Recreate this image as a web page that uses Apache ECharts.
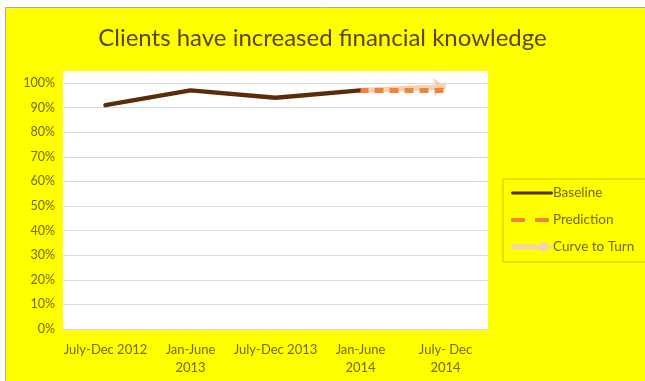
<!DOCTYPE html>
<html>
<head>
<meta charset="utf-8">
<script src="https://cdn.jsdelivr.net/npm/echarts@6/dist/echarts.min.js"></script>
<style>
  html, body { margin: 0; padding: 0; background: #ffffff; }
  #chart { width: 645px; height: 381px; }
</style>
</head>
<body>
<div id="chart"></div>
<script>
// Half-year periods on the x axis
const periods = ['July-Dec 2012', 'Jan-June\n2013', 'July-Dec 2013', 'Jan-June\n2014', 'July- Dec\n2014'];
// Share of clients reporting increased financial knowledge
const baseline   = [0.91, 0.97, 0.94, 0.97, null];
const prediction = [null, null, null, 0.97, 0.97];
const curveToTurn = [null, null, null, 0.97, 0.985];
// Value axis ticks
const yTicks = [0, 0.1, 0.2, 0.3, 0.4, 0.5, 0.6, 0.7, 0.8, 0.9, 1.0];

const FONT = 'Lato, "Open Sans", sans-serif';
const LABEL = '#7a6400';

const chart = echarts.init(document.getElementById('chart'), null, { renderer: 'canvas' });

chart.setOption({
  backgroundColor: '#ffffff',
  animation: false,
  graphic: [
    {
      type: 'rect', z: -10, silent: true,
      shape: { x: 5.5, y: 7.5, width: 660, height: 400 },
      style: { fill: '#ffff00', stroke: '#a8a8a8', lineWidth: 1 }
    },
    {
      type: 'rect', z: -9, silent: true,
      shape: { x: 63, y: 71, width: 425, height: 259 },
      style: { fill: '#ffffff' }
    }
  ],
  title: {
    text: 'Clients have increased financial knowledge',
    left: 'center',
    top: 21,
    textStyle: { fontFamily: FONT, fontSize: 24, fontWeight: 'normal', color: '#5a4600' }
  },
  legend: {
    orient: 'vertical',
    left: 503,
    top: 179,
    padding: [7, 12, 8, 8],
    itemGap: 13,
    itemWidth: 42,
    itemHeight: 13,
    borderColor: '#d2bd00',
    borderWidth: 1,
    textStyle: { fontFamily: FONT, fontSize: 13.5, color: LABEL, padding: [0, 0, 0, -5] },
    data: [
      { name: 'Baseline', icon: 'path://M1,4.5 L41,4.5 A1.5,1.5 0 0 1 41,7.5 L1,7.5 A1.5,1.5 0 0 1 1,4.5 Z', itemStyle: { color: '#5b2c0a' } },
      { name: 'Prediction', icon: 'path://M0,4 L14,4 L14,8 L0,8 Z M24,4 L38,4 L38,8 L24,8 Z M0,0 L0,0.01 L42,0.01 L42,0 Z M0,12 L0,11.99 L42,11.99 L42,12 Z', itemStyle: { color: '#f0843a' } },
      { name: 'Curve to Turn', icon: 'path://M0,3.5 L30,3.5 L30,0 L42,6 L30,12 L30,8.5 L0,8.5 Z', itemStyle: { color: '#f8d2b0' } }
    ]
  },
  grid: { left: 63, right: 157, top: 83, bottom: 52 },
  xAxis: {
    type: 'category',
    data: periods,
    boundaryGap: true,
    axisLine: { show: true, lineStyle: { color: '#d9d9d9', width: 1 } },
    axisTick: { show: false },
    axisLabel: { fontFamily: FONT, fontSize: 13, color: LABEL, lineHeight: 18, margin: 12, interval: 0 }
  },
  yAxis: {
    type: 'value',
    min: yTicks[0],
    max: yTicks[yTicks.length - 1],
    interval: 0.1,
    axisLine: { show: false },
    axisTick: { show: false },
    splitLine: { lineStyle: { color: '#d9d9d9', width: 1 } },
    axisLabel: {
      fontFamily: FONT, fontSize: 12.5, color: LABEL, margin: 8,
      formatter: v => Math.round(v * 100) + '%'
    }
  },
  series: [
    {
      name: 'Curve to Turn',
      type: 'line',
      data: curveToTurn,
      symbol: 'none',
      z: 2,
      lineStyle: { color: '#f8d2b0', width: 5, cap: 'butt' },
      itemStyle: { color: '#f8d2b0' },
      markLine: {
        silent: true,
        symbol: ['none', 'arrow'],
        symbolSize: [14, 12],
        label: { show: false },
        lineStyle: { color: '#f8d2b0', width: 5, type: 'solid' },
        data: [[{ coord: [3, curveToTurn[3]] }, { coord: [4, curveToTurn[4]] }]]
      }
    },
    {
      name: 'Baseline',
      type: 'line',
      data: baseline,
      symbol: 'none',
      z: 5,
      lineStyle: { color: '#5b2c0a', width: 4.5, cap: 'round', join: 'round' },
      itemStyle: { color: '#5b2c0a' }
    },
    {
      name: 'Prediction',
      type: 'line',
      data: prediction,
      symbol: 'none',
      z: 6,
      lineStyle: { color: '#f0843a', width: 5, type: [9, 6], dashOffset: -14 },
      itemStyle: { color: '#f0843a' }
    }
  ]
});
</script>
</body>
</html>
